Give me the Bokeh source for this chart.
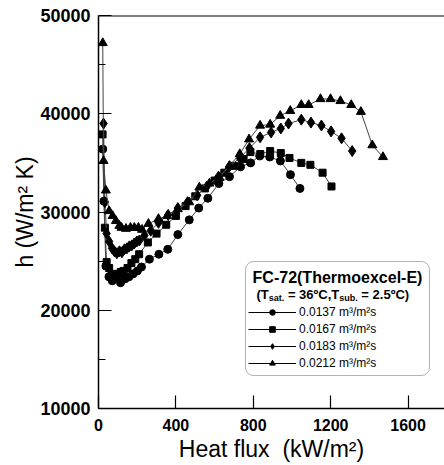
from bokeh.plotting import figure
from bokeh.models import (FixedTicker, Range1d, Span, BoxAnnotation, Label,
                          Legend, LegendItem, Title)
from bokeh.embed import file_html
from bokeh.resources import INLINE

# ---- data (heat flux kW/m2, h W/m2K) ----
q_0137 = [22, 28, 38, 54, 71, 92, 114, 137, 157, 178, 201, 222, 263, 312, 358, 410,
          469, 518, 565, 622, 677, 734, 786, 833, 885, 940, 992, 1041]
h_0137 = [36400, 31100, 24500, 23400, 23000, 23300, 22800, 23200, 23400, 23700, 24000,
          24400, 25200, 25700, 26200, 27700, 29200, 30400, 31400, 32900, 33600, 34600,
          35000, 35700, 35600, 35200, 33800, 32400]

q_0167 = [21, 33, 42, 55, 70, 85, 100, 115, 130, 150, 170, 190, 210, 255, 300, 350, 400,
          450, 500, 550, 600, 650, 700, 750, 785, 836, 887, 942, 987, 1048, 1095, 1158, 1204]
h_0167 = [37900, 28400, 24900, 24300, 23700, 23500, 23700, 23900, 24000, 24300, 24800,
          25200, 25700, 26900, 27800, 28700, 29600, 30600, 31600, 32400, 33200, 34000,
          34700, 35400, 36100, 35900, 36200, 36000, 35500, 35000, 34800, 34000, 32600]

q_0183 = [26, 33, 42, 55, 70, 82, 95, 108, 121, 134, 147, 159, 172, 185, 198, 211, 237,
          270, 310, 360, 410, 460, 510, 560, 620, 675, 730, 780, 835, 892, 942, 982, 1048,
          1098, 1152, 1202, 1256, 1311]
h_0183 = [39000, 31000, 27800, 27000, 26300, 26000, 25800, 26000, 25900, 26200, 26300,
          26500, 26600, 26800, 27000, 27100, 27600, 28100, 28900, 29700, 30400, 31000,
          31700, 32600, 33600, 34600, 35500, 36500, 37600, 38100, 38500, 39000, 39400,
          39100, 38800, 38200, 37500, 36200]

q_0212 = [22, 26, 38, 55, 73, 90, 108, 119, 142, 165, 185, 206, 225, 258, 310, 355, 410,
          469, 521, 573, 625, 677, 730, 778, 835, 887, 939, 991, 1048, 1086, 1147, 1199,
          1250, 1306, 1356, 1415, 1470]
h_0212 = [47200, 35200, 32200, 30100, 29600, 29100, 28600, 28400, 28300, 28400, 28400,
          28400, 28200, 28800, 29300, 29600, 30300, 31000, 32500, 32900, 33500, 34700,
          35900, 37400, 38800, 38900, 39800, 40300, 40900, 40900, 41500, 41500, 41300,
          40900, 40200, 36800, 35600]

series_labels = ["0.0137 m\u00b3/m\u00b2s", "0.0167 m\u00b3/m\u00b2s",
                 "0.0183 m\u00b3/m\u00b2s", "0.0212 m\u00b3/m\u00b2s"]
x_ticks = [0, 400, 800, 1200, 1600]
y_ticks = [10000, 20000, 30000, 40000, 50000]
y_minor = [15000, 25000, 35000, 45000]

FONT = "Liberation Sans"
NB = "\u00a0"

p = figure(frame_width=346, frame_height=393, output_backend="svg",
           toolbar_location=None, x_range=Range1d(0, 1788), y_range=Range1d(10000, 50000),
           min_border_left=98, min_border_right=0, min_border_top=15, min_border_bottom=57)
p.outline_line_color = None
p.grid.visible = False
p.background_fill_color = "white"
p.border_fill_color = "white"

xa = p.xaxis[0]
xa.ticker = FixedTicker(ticks=x_ticks, minor_ticks=[])
ya = p.yaxis[0]
ya.ticker = FixedTicker(ticks=y_ticks, minor_ticks=y_minor)
for ax in (xa, ya):
    ax.axis_line_color = "black"
    ax.axis_line_width = 1.5
    ax.major_tick_line_color = "black"
    ax.major_tick_line_width = 1.2
    ax.major_tick_in = 13
    ax.major_tick_out = 0
    ax.minor_tick_line_color = "black"
    ax.minor_tick_line_width = 1.2
    ax.minor_tick_in = 7
    ax.minor_tick_out = 0
    ax.major_label_text_font = FONT
    ax.major_label_text_font_style = "bold"
    ax.major_label_text_color = "black"
    ax.axis_label_text_font = FONT
    ax.axis_label_text_font_style = "normal"
    ax.axis_label_text_color = "black"
    ax.axis_label_text_font_size = "23px"
xa.major_label_text_font_size = "16px"
ya.major_label_text_font_size = "18px"
xa.major_label_standoff = 10
ya.major_label_standoff = 8
xa.axis_label = "Heat flux" + NB + NB + "(kW/m\u00b2)"
xa.axis_label_standoff = 2

# y axis title placed as a side title next to the tick labels
p.add_layout(Title(text="h (W/m\u00b2 K)", align="center", text_font=FONT,
                   text_font_size="23px", text_font_style="normal", text_color="black",
                   standoff=0, offset=0), "left")

p.add_layout(Span(location=50000, dimension="width", line_color="black", line_width=2))

LINE = "#444444"
specs = [(q_0137, h_0137, "circle", 8), (q_0167, h_0167, "square", 7),
         (q_0183, h_0183, "diamond", 11), (q_0212, h_0212, "triangle", 9)]
items = []
for (qx, hy, mk, sz), lab in zip(specs, series_labels):
    p.line(qx, hy, line_color=LINE, line_width=1)
    sc = p.scatter(qx, hy, marker=mk, size=sz, fill_color="black", line_color="black")
    # black line for the legend symbol (single point, draws nothing on the plot)
    lln = p.line(qx[:1], hy[:1], line_color="black", line_width=1)
    items.append(LegendItem(label=lab, renderers=[lln, sc]))

# legend frame
p.add_layout(BoxAnnotation(left=147, right=331, bottom=33, top=147,
                           left_units="screen", right_units="screen",
                           bottom_units="screen", top_units="screen",
                           fill_color="white", fill_alpha=1.0, line_color="black",
                           line_width=1, border_radius=8))
p.add_layout(Label(x=239, y=131, x_units="screen", y_units="screen",
                   text="FC-72(Thermoexcel-E)", text_font=FONT, text_font_style="bold",
                   text_font_size="16px", text_align="center", text_baseline="middle",
                   text_color="black"))
# subtitle pieces with subscripts
sub_parts = [("(T", 13, 0, 0.944),
             ("sat.", 9, -3, 1.723),
             (NB + "=" + NB + "36\u00baC,T", 13, 0, 4.228),
             ("sub.", 9, -3, 2.056),
             (NB + "=" + NB + "2.5\u00baC)", 13, 0, 3.95)]
x0 = 158
for txt, fs, dy, em in sub_parts:
    p.add_layout(Label(x=x0, y=114 + dy, x_units="screen", y_units="screen", text=txt,
                       text_font=FONT, text_font_style="bold", text_font_size=f"{fs}px",
                       text_align="left", text_baseline="middle", text_color="black"))
    x0 += em * fs

leg = Legend(items=items, location=(150, 38), border_line_color=None,
             background_fill_alpha=0, glyph_width=48, glyph_height=14, label_height=14,
             spacing=3, padding=0, margin=0, label_standoff=3,
             label_text_font=FONT, label_text_font_size="12px", label_text_color="black")
p.add_layout(leg, "center")

open("out.html", "w").write(file_html(p, INLINE))
